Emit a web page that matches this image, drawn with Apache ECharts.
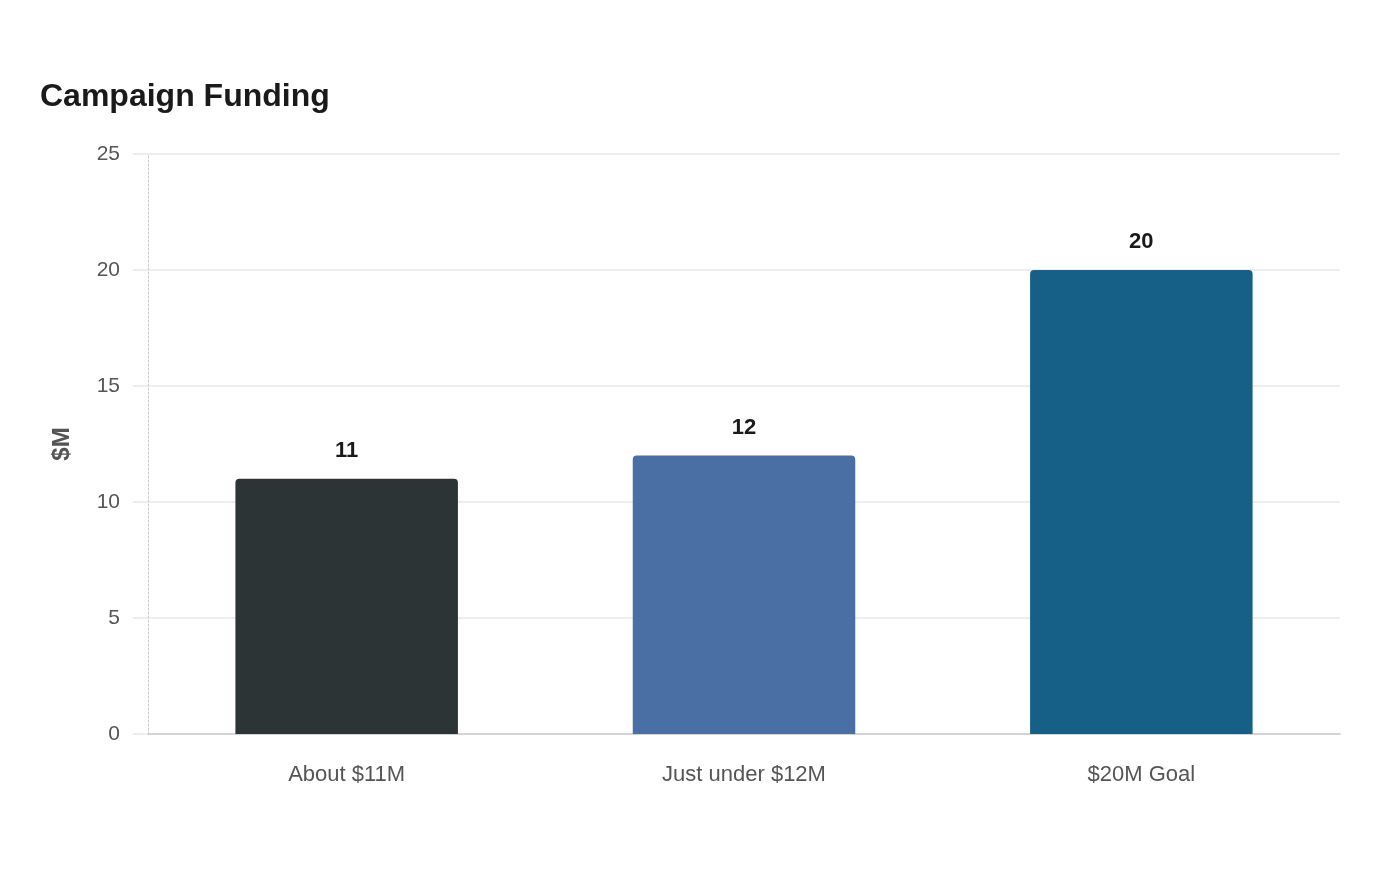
<!DOCTYPE html>
<html>
<head>
<meta charset="utf-8">
<title>Campaign Funding</title>
<script src="https://cdn.jsdelivr.net/npm/echarts@6/dist/echarts.min.js"></script>
<style>
  html, body { margin: 0; padding: 0; background: #fff; }
  #main { width: 1400px; height: 880px; }
</style>
</head>
<body>
<div id="main"></div>
<script>
var categories = ['About $11M', 'Just under $12M', '$20M Goal'];
var values = [11, 12, 20];
var barColors = ['#2d3436', '#4a6fa5', '#166088'];

var dom = document.getElementById('main');
var myChart = echarts.init(dom, null, { renderer: 'canvas' });

var font = '"Liberation Sans", Arial, sans-serif';

var option = {
    backgroundColor: '#ffffff',
    animation: false,
    title: {
        text: 'Campaign Funding',
        left: 35,
        top: 76,
        textStyle: {
            fontFamily: font,
            fontSize: 32,
            fontWeight: 'bold',
            color: '#1a1a1a'
        }
    },
    grid: {
        left: 148,
        right: 60,
        top: 154,
        bottom: 146,
        containLabel: false
    },
    xAxis: {
        type: 'category',
        data: categories,
        axisLine: { show: true, lineStyle: { color: '#cccccc', width: 1.5 } },
        axisTick: { show: false },
        axisLabel: {
            margin: 30,
            fontFamily: font,
            fontSize: 22,
            color: '#555555'
        }
    },
    yAxis: {
        type: 'value',
        min: 0,
        max: 25,
        interval: 5,
        name: '$M',
        nameLocation: 'middle',
        nameGap: 74,
        nameTextStyle: {
            fontFamily: font,
            fontSize: 24,
            fontWeight: 'bold',
            color: '#555555'
        },
        axisLine: { show: true, lineStyle: { color: '#cccccc', type: [2, 2], width: 1 } },
        axisTick: { show: true, length: 15, lineStyle: { color: '#e8e8e8', width: 1.5 } },
        axisLabel: {
            margin: 28,
            fontFamily: font,
            fontSize: 21,
            color: '#555555'
        },
        splitLine: { lineStyle: { color: '#e8e8e8', width: 1.5 } }
    },
    series: [{
        type: 'bar',
        barWidth: '56%',
        data: values.map(function (v, i) {
            return { value: v, itemStyle: { color: barColors[i] } };
        }),
        itemStyle: { borderRadius: [4, 4, 0, 0] },
        label: {
            show: true,
            position: 'top',
            distance: 17,
            fontFamily: font,
            fontSize: 22,
            fontWeight: 'bold',
            color: '#1a1a1a'
        }
    }]
};

myChart.setOption(option);
window.addEventListener('resize', myChart.resize);
</script>
</body>
</html>
